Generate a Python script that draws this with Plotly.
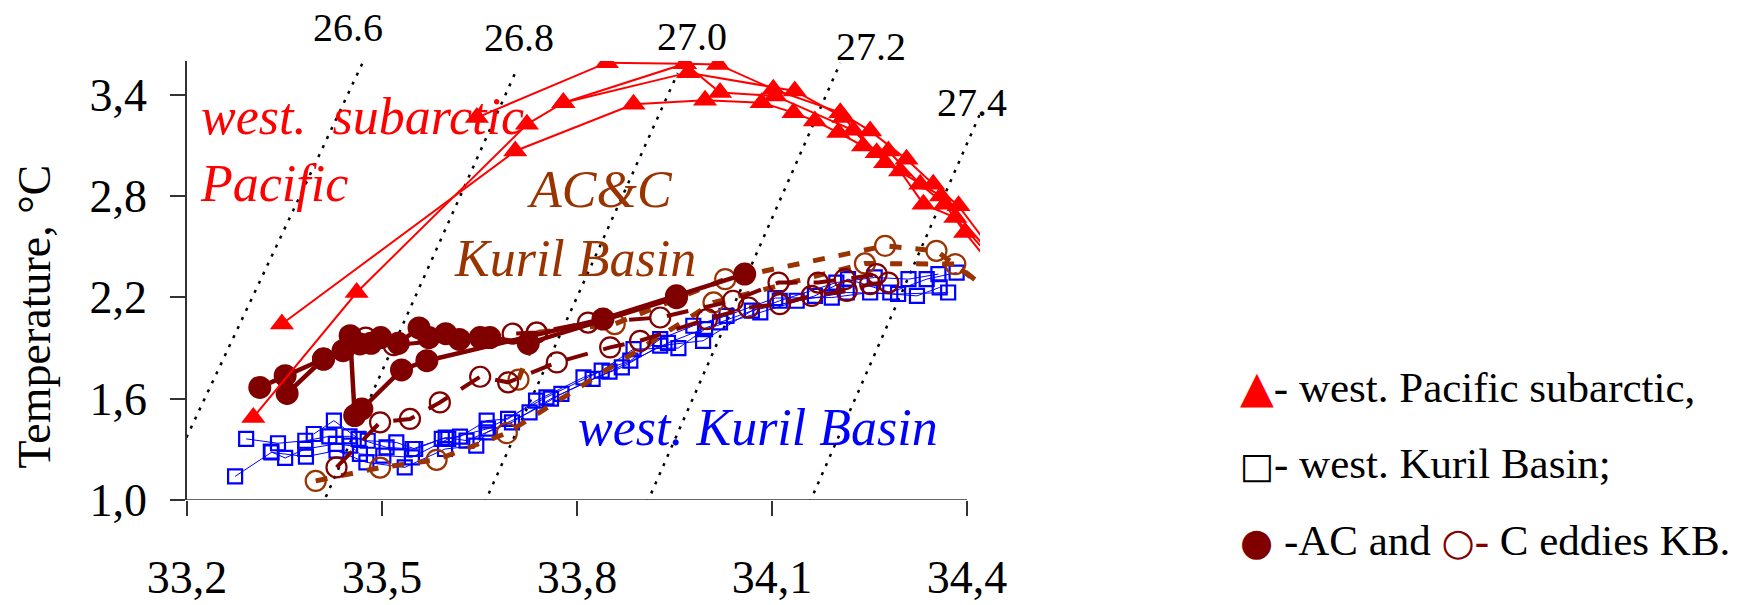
import plotly.graph_objects as go

# ---------------- data ----------------
X_TICKS = [33.2, 33.5, 33.8, 34.1, 34.4]
X_TICK_TEXT = ["33,2", "33,5", "33,8", "34,1", "34,4"]
Y_TICKS = [1.0, 1.6, 2.2, 2.8, 3.4]
Y_TICK_TEXT = ["1,0", "1,6", "2,2", "2,8", "3,4"]

# isopycnals (sigma-theta), read as straight segments
ISO_LABELS = ["26.6", "26.8", "27.0", "27.2", "27.4"]
ISO_S_LOW = [33.186, 33.401, 33.658, 33.908, 34.158]
ISO_T_LOW = [1.263, 0.909, 0.985, 0.985, 0.985]
ISO_S_HIGH = [33.472, 33.707, 33.955, 34.205, 34.420]
ISO_T_HIGH = [3.604, 3.547, 3.529, 3.589, 3.286]

# west. Pacific subarctic (red triangles)
R1_S = [34.45, 34.387, 34.348, 34.307, 34.251, 34.205, 34.102, 34.017, 33.966, 33.846, 33.646]
R1_T = [2.42, 2.742, 2.870, 3.018, 3.186, 3.294, 3.433, 3.580, 3.584, 3.590, 3.265]
R2_S = [34.45, 34.382, 34.333, 34.297, 34.261, 34.210, 34.135, 33.971, 33.779, 33.723, 33.461, 33.302]
R2_T = [2.38, 2.673, 2.752, 2.949, 3.057, 3.265, 3.423, 3.531, 3.353, 3.225, 2.229, 1.489]
R3_S = [34.45, 34.397, 34.366, 34.328, 34.279, 34.240, 34.202, 34.166, 34.133, 34.084, 33.997, 33.887, 33.705, 33.346]
R3_T = [2.33, 2.584, 2.752, 2.870, 3.067, 3.097, 3.176, 3.245, 3.294, 3.353, 3.367, 3.344, 3.067, 2.042]
R4_S = [34.45, 34.360, 34.274, 34.225, 34.105, 34.020, 33.966, 33.779]
R4_T = [2.40, 2.800, 2.998, 3.190, 3.393, 3.413, 3.584, 3.353]

# west. Kuril Basin (blue open squares)
B1_S = [33.274, 33.330, 33.383, 33.430, 33.476, 33.535, 33.597, 33.645, 33.661, 33.727, 33.776, 33.824, 33.869, 33.928, 33.994, 34.069, 34.138, 34.215, 34.294, 34.371]
B1_T = [1.140, 1.282, 1.257, 1.292, 1.223, 1.193, 1.302, 1.322, 1.401, 1.519, 1.628, 1.717, 1.785, 1.914, 1.943, 2.121, 2.180, 2.229, 2.220, 2.229]
B2_S = [33.291, 33.340, 33.382, 33.419, 33.450, 33.478, 33.522, 33.551, 33.592, 33.620, 33.661, 33.694, 33.737, 33.810, 33.882, 33.928, 33.979, 34.030, 34.105, 34.192, 34.251, 34.323, 34.358]
B2_T = [1.362, 1.336, 1.351, 1.377, 1.377, 1.351, 1.341, 1.302, 1.362, 1.375, 1.470, 1.480, 1.588, 1.726, 1.825, 1.953, 2.032, 2.091, 2.196, 2.199, 2.229, 2.209, 2.259]
B3_S = [33.329, 33.351, 33.382, 33.429, 33.451, 33.466, 33.502, 33.546, 33.602, 33.663, 33.753, 33.838, 33.887, 33.956, 33.997, 34.082, 34.166, 34.217, 34.282, 34.338, 34.384]
B3_T = [1.286, 1.249, 1.302, 1.332, 1.322, 1.273, 1.263, 1.253, 1.362, 1.423, 1.608, 1.766, 1.894, 1.900, 2.012, 2.111, 2.209, 2.308, 2.229, 2.308, 2.347]
B4_S = [33.395, 33.426, 33.464, 33.507, 33.547, 33.598, 33.630, 33.700, 33.760, 33.850, 33.940, 34.020, 34.112, 34.199, 34.258, 34.310, 34.356]
B4_T = [1.391, 1.470, 1.362, 1.312, 1.302, 1.370, 1.352, 1.460, 1.600, 1.760, 1.930, 2.052, 2.180, 2.288, 2.318, 2.308, 2.338]

# AC eddies KB (dark red filled circles)
AC1_S = [33.312, 33.351, 33.410, 33.440, 33.451, 33.458, 33.469, 33.530, 33.569, 33.840, 33.953, 34.058]
AC1_T = [1.667, 1.736, 1.835, 1.884, 1.973, 1.500, 1.539, 1.770, 1.825, 2.072, 2.209, 2.338]
AC2_S = [33.354, 33.410, 33.466, 33.483, 33.498, 33.525, 33.557, 33.572, 33.598, 33.619, 33.651, 33.666, 33.725, 33.953]
AC2_T = [1.631, 1.835, 1.924, 1.928, 1.962, 1.928, 2.019, 1.962, 1.985, 1.951, 1.962, 1.962, 1.928, 2.198]

# C eddies KB (dark red open circles)
CD1_S = [33.430, 33.497, 33.543, 33.589, 33.651, 33.694, 33.769, 33.851, 33.897, 34.000, 34.064, 34.112, 34.161, 34.215, 34.251, 34.279]
CD1_T = [1.193, 1.460, 1.480, 1.578, 1.730, 1.697, 1.815, 1.904, 1.943, 2.071, 2.140, 2.160, 2.209, 2.239, 2.279, 2.288]
CD2_S = [33.475, 33.518, 33.701, 33.738, 33.817, 33.928, 34.040, 34.110, 34.171, 34.212, 34.261]
CD2_T = [1.962, 1.917, 1.985, 1.992, 2.051, 2.081, 2.180, 2.288, 2.288, 2.308, 2.338]

# C eddies KB (brown open circles, dashed)
BR1_S = [33.398, 33.497, 33.584, 33.692, 34.010, 34.243, 34.382, 34.45]
BR1_T = [1.113, 1.192, 1.238, 1.396, 2.170, 2.401, 2.397, 2.19]
BR2_S = [33.710, 33.738, 33.858, 34.028, 34.274, 34.353, 34.45]
BR2_T = [1.713, 1.992, 2.042, 2.308, 2.505, 2.476, 2.19]

# ---------------- styles ----------------
RED = "#FF0000"
BLUE = "#0000FF"
DARKRED = "#800000"
BROWN = "#993300"
SERIF = "Liberation Serif, Times New Roman, serif"

fig = go.Figure()

# isopycnals
for i in range(len(ISO_LABELS)):
    fig.add_trace(go.Scatter(
        x=[ISO_S_LOW[i], ISO_S_HIGH[i]], y=[ISO_T_LOW[i], ISO_T_HIGH[i]],
        mode="lines", line=dict(color="black", width=2.5, dash="3px,7px"),
        hoverinfo="skip", showlegend=False))

# blue squares
for s, t in [(B1_S, B1_T), (B2_S, B2_T), (B3_S, B3_T), (B4_S, B4_T)]:
    fig.add_trace(go.Scatter(
        x=s, y=t, mode="lines+markers",
        line=dict(color=BLUE, width=1),
        marker=dict(symbol="square-open", size=14, color=BLUE, line=dict(width=2.2, color=BLUE)),
        showlegend=False))

# brown dashed open circles
for s, t in [(BR1_S, BR1_T), (BR2_S, BR2_T)]:
    fig.add_trace(go.Scatter(
        x=s, y=t, mode="lines+markers",
        line=dict(color=BROWN, width=5, dash="12px,14px"),
        marker=dict(symbol="circle-open", size=20, color=BROWN, line=dict(width=2.2, color=BROWN)),
        showlegend=False))

# dark red open circles
for s, t in [(CD1_S, CD1_T), (CD2_S, CD2_T)]:
    fig.add_trace(go.Scatter(
        x=s, y=t, mode="lines+markers",
        line=dict(color=DARKRED, width=4, dash="22px,16px"),
        marker=dict(symbol="circle-open", size=20, color=DARKRED, line=dict(width=2.2, color=DARKRED)),
        showlegend=False))

# AC filled circles
for s, t in [(AC1_S, AC1_T), (AC2_S, AC2_T)]:
    fig.add_trace(go.Scatter(
        x=s, y=t, mode="lines+markers",
        line=dict(color=DARKRED, width=4.5),
        marker=dict(symbol="circle", size=23, color=DARKRED),
        showlegend=False))

# red triangles
for s, t in [(R1_S, R1_T), (R2_S, R2_T), (R3_S, R3_T), (R4_S, R4_T)]:
    fig.add_trace(go.Scatter(
        x=s, y=t, mode="lines+markers",
        line=dict(color=RED, width=2),
        marker=dict(symbol="triangle-up", size=21, color=RED),
        showlegend=False))

annotations = []
# isopycnal labels (paper positions)
iso_label_pos = [(0.2030, 1.0752), (0.4187, 1.0524), (0.6368, 1.0547), (0.8625, 1.0319), (0.9899, 0.9066)]
for lab, (px, py) in zip(ISO_LABELS, iso_label_pos):
    annotations.append(dict(x=px, y=py, xref="paper", yref="paper", text=lab, showarrow=False,
                            font=dict(family=SERIF, size=40, color="black"),
                            xanchor="center", yanchor="middle"))

def itext(txt, x, y, color, anchor="left"):
    return dict(x=x, y=y, xref="x", yref="y", text="<i>" + txt + "</i>", showarrow=False,
                font=dict(family=SERIF, size=52, color=color), xanchor=anchor, yanchor="middle")

annotations += [
    itext("west.  subarctic", 33.218, 3.269, RED),
    itext("Pacific", 33.217, 2.872, RED),
    itext("AC&amp;C", 33.835, 2.837, BROWN, "center"),
    itext("Kuril Basin", 33.797, 2.428, BROWN, "center"),
    itext("west. Kuril Basin", 34.079, 1.428, BLUE, "center"),
]

# axis title
annotations.append(dict(x=-0.1929, y=0.418, xref="paper", yref="paper", text="Temperature, °C",
                        textangle=-90, showarrow=False,
                        font=dict(family=SERIF, size=46, color="black"),
                        xanchor="center", yanchor="middle"))

# legend rows
LEG = dict(family=SERIF, size=43, color="black")
annotations += [
    dict(x=1.3253, y=0.258, xref="paper", yref="paper", showarrow=False, xanchor="left", yanchor="middle",
         font=LEG,
         text='<span style="color:#FF0000;font-family:DejaVu Sans;font-size:44px">▲</span>- west. Pacific subarctic,'),
    dict(x=1.3253, y=0.083, xref="paper", yref="paper", showarrow=False, xanchor="left", yanchor="middle",
         font=LEG,
         text='<span style="font-family:DejaVu Sans;font-size:36px">□</span>- west. Kuril Basin;'),
    dict(x=1.3253, y=-0.093, xref="paper", yref="paper", showarrow=False, xanchor="left", yanchor="middle",
         font=LEG,
         text='<span style="color:#800000;font-family:DejaVu Sans;font-size:38px">●</span> -AC and '
              '<span style="color:#800000;font-family:DejaVu Sans;font-size:38px">○</span>'
              '<span style="color:#800000">-</span> C eddies KB.'),
]

fig.update_layout(
    width=1737, height=605,
    margin=dict(l=187, r=757, t=61, b=105, pad=0, autoexpand=False),
    paper_bgcolor="white", plot_bgcolor="white",
    showlegend=False,
    annotations=annotations,
    shapes=[dict(type="line", xref="x", yref="y", x0=X_TICKS[0], x1=X_TICKS[-1], y0=Y_TICKS[0], y1=Y_TICKS[0],
                 line=dict(color="#333333", width=1.5))],
    xaxis=dict(range=[33.2, 34.42], tickvals=X_TICKS, ticktext=X_TICK_TEXT, automargin=False,
               showgrid=False, zeroline=False, showline=False,
               ticks="outside", ticklen=15, tickwidth=1.5, tickcolor="#333333",
               ticklabelstandoff=22,
               tickfont=dict(family=SERIF, size=46, color="black")),
    yaxis=dict(range=[1.0, 3.6], tickvals=Y_TICKS, ticktext=Y_TICK_TEXT, automargin=False,
               showgrid=False, zeroline=False, showline=True, linecolor="#333333", linewidth=1.5,
               ticks="outside", ticklen=15, tickwidth=1.5, tickcolor="#333333",
               ticklabelstandoff=14,
               tickfont=dict(family=SERIF, size=46, color="black")),
)

fig.write_html("out.html")
